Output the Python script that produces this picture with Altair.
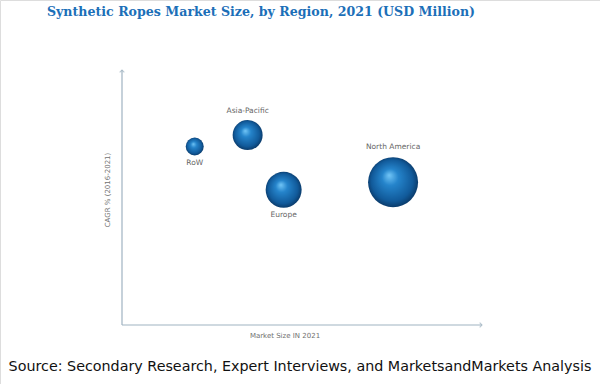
import altair as alt
import pandas as pd

# ---- data (notional units, axes carry no ticks) ----
regions = ["RoW", "Asia-Pacific", "Europe", "North America"]
market_size = [20.2, 34.9, 44.9, 75.3]      # x position (market size, 2021)
cagr = [7.0, 7.45, 5.3, 5.6]                # y position (CAGR % 2016-2021)
bubble = [324, 900, 1296, 2500]             # bubble area
label_side = ["below", "above", "below", "above"]

title_text = ["Synthetic Ropes Market Size, by Region, 2021 (USD Million)"]
source_text = ["Source: Secondary Research, Expert Interviews, and MarketsandMarkets Analysis"]
x_title = ["Market Size IN 2021"]
y_title = ["CAGR % (2016-2021)"]

df = pd.DataFrame({"region": regions, "size": market_size, "cagr": cagr,
                   "bubble": bubble, "side": label_side})

W, H = 600, 384
xs = alt.Scale(domain=[0, 100], range=[122, 482])
ys = alt.Scale(domain=[0, 10], range=[325, 70])
ss = alt.Scale(domain=[0, 2500], range=[0, 2500])

X = alt.X("size:Q", scale=xs, axis=None)
Y = alt.Y("cagr:Q", scale=ys, axis=None)

axis_color = "#9fb3c1"

# axes lines
axes_df = pd.DataFrame({"x": [0, 0], "y": [0, 0], "x2": [100, 0], "y2": [0, 10]})
axes = alt.Chart(axes_df).mark_rule(color=axis_color, strokeWidth=1.2).encode(
    x=alt.X("x:Q", scale=xs, axis=None), y=alt.Y("y:Q", scale=ys, axis=None),
    x2="x2:Q", y2="y2:Q")

arrow_r = alt.Chart(pd.DataFrame({"x": [100], "y": [0]})).mark_point(
    shape="M-1,-1L0,0L-1,1", size=22, color=axis_color, strokeWidth=1.1, filled=False
).encode(x=alt.X("x:Q", scale=xs, axis=None), y=alt.Y("y:Q", scale=ys, axis=None))
arrow_t = alt.Chart(pd.DataFrame({"x": [0], "y": [10]})).mark_point(
    shape="M-1,1L0,0L1,1", size=22, color=axis_color, strokeWidth=1.1, filled=False
).encode(x=alt.X("x:Q", scale=xs, axis=None), y=alt.Y("y:Q", scale=ys, axis=None))

grad = alt.RadialGradient(
    gradient="radial",
    stops=[alt.GradientStop(offset=0, color="#72c6f7"),
           alt.GradientStop(offset=0.3, color="#2584cb"),
           alt.GradientStop(offset=0.75, color="#115a9a"),
           alt.GradientStop(offset=1, color="#082f58")],
    x1=0.42, y1=0.36, r1=0, x2=0.5, y2=0.5, r2=0.55)

bubbles = alt.Chart(df).mark_circle(fill=grad, opacity=1, strokeWidth=0).encode(
    x=X, y=Y, size=alt.Size("bubble:Q", scale=ss, legend=None))

label_style = dict(font="DejaVu Sans", fontSize=7.5, color="#666666")
label_dy = {"RoW": 16, "Asia-Pacific": -24, "Europe": 25, "North America": -35}
labels = alt.layer(*[
    alt.Chart(df).transform_filter(alt.datum.region == r).mark_text(dy=d, **label_style)
    .encode(x=X, y=Y, text="region:N")
    for r, d in label_dy.items()])

title = alt.Chart(pd.DataFrame({"t": title_text})).mark_text(
    font="DejaVu Serif", fontWeight="bold", fontSize=12.6, color="#1c6fb8"
).encode(x=alt.value(261), y=alt.value(12), text="t:N")

source = alt.Chart(pd.DataFrame({"t": source_text})).mark_text(
    font="DejaVu Sans", fontSize=14.3, color="#111111"
).encode(x=alt.value(300), y=alt.value(367), text="t:N")

xt = alt.Chart(pd.DataFrame({"t": x_title})).mark_text(
    font="DejaVu Sans", fontSize=7, color="#707070"
).encode(x=alt.value(285), y=alt.value(336), text="t:N")

yt = alt.Chart(pd.DataFrame({"t": y_title})).mark_text(
    font="DejaVu Sans", fontSize=7, color="#707070", angle=270
).encode(x=alt.value(108), y=alt.value(190), text="t:N")

chart = alt.layer(axes, arrow_r, arrow_t, bubbles, labels, title, source, xt, yt).properties(
    width=W, height=H, padding=0, autosize=alt.AutoSizeParams(type="none")
).configure_view(stroke=None).configure(background="white")

chart.save("out.html", embed_options={"renderer": "svg", "actions": False})
